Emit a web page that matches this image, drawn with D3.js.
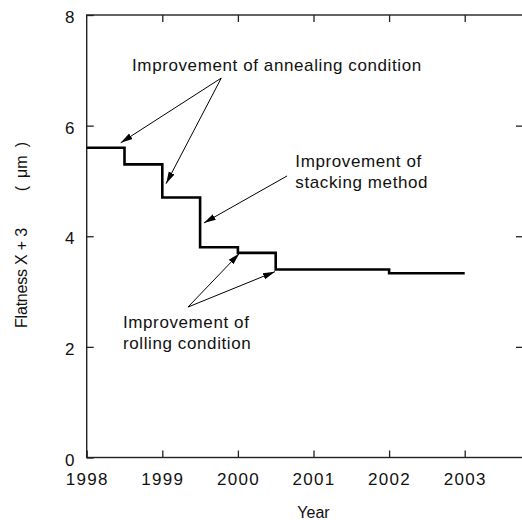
<!DOCTYPE html>
<html>
<head>
<meta charset="utf-8">
<script src="https://cdn.jsdelivr.net/npm/d3@7"></script>
<style>
  html, body { margin: 0; padding: 0; background: #fff; }
  svg { display: block; }
  text { font-family: "Liberation Sans", Arial, sans-serif; fill: #111; }
</style>
</head>
<body>
<svg id="chart" width="522" height="520"></svg>
<script>
// Flatness history: step changes by year
const years = [1998, 1998.5, 1999, 1999.5, 2000, 2000.5, 2002, 2003];
const flatness = [5.6, 5.3, 4.7, 3.8, 3.7, 3.4, 3.33, 3.33];

const xTicks = [1998, 1999, 2000, 2001, 2002, 2003];
const yTicks = [0, 2, 4, 6, 8];

const xTitle = "Year";
const yTitle = ["Flatness X + 3", "(\u2002μm\u2002)"];

// Callouts: label lines, label anchor (year, value), arrow start and arrow tips
const callouts = [
  { lines: ["Improvement of annealing condition"], at: [1998.6, 6.98],
    from: [1999.78, 6.86], tips: [[1998.45, 5.69], [1999.05, 4.95]] },
  { lines: ["Improvement of", "stacking method"], at: [2000.76, 5.25],
    from: [2000.65, 5.09], tips: [[1999.55, 4.24]] },
  { lines: ["Improvement of", "rolling condition"], at: [1998.48, 2.35],
    from: [1999.34, 2.72], tips: [[2000.02, 3.69], [2000.49, 3.36]] }
];

const svg = d3.select("#chart");
const plotLeft = 86.7, plotTop = 15, plotBottom = 457.5, plotRight = 523;
const x = d3.scaleLinear().domain([1998, 2003]).range([plotLeft, plotLeft + 5 * 75.6]);
const y = d3.scaleLinear().domain([0, 8]).range([plotBottom, plotTop]);

// arrowhead
svg.append("defs").append("marker")
  .attr("id", "head").attr("markerUnits", "userSpaceOnUse")
  .attr("viewBox", "0 -4 12 8").attr("refX", 12).attr("refY", 0)
  .attr("markerWidth", 12).attr("markerHeight", 8).attr("orient", "auto")
  .append("path").attr("d", "M0,-3.2L12,0L0,3.2Z").attr("fill", "#000");

// frame
svg.append("rect")
  .attr("x", plotLeft).attr("y", plotTop)
  .attr("width", plotRight - plotLeft).attr("height", plotBottom - plotTop)
  .attr("fill", "none").attr("stroke", "#222").attr("stroke-width", 1.4);

const tickLen = 7;
const axisFont = 17;

// bottom and top axes, ticks pointing inward
const gx = svg.append("g").attr("transform", `translate(0,${plotBottom})`)
  .call(d3.axisBottom(x).tickValues(xTicks).tickFormat(d3.format("d")).tickSizeInner(-tickLen).tickSizeOuter(0).tickPadding(15));
const gxt = svg.append("g").attr("transform", `translate(0,${plotTop})`)
  .call(d3.axisTop(x).tickValues(xTicks.slice(1)).tickSizeInner(-tickLen).tickSizeOuter(0).tickFormat(""));
const gy = svg.append("g").attr("transform", `translate(${plotLeft},0)`)
  .call(d3.axisLeft(y).tickValues(yTicks).tickSizeInner(-tickLen).tickSizeOuter(0).tickPadding(11));
const gyr = svg.append("g").attr("transform", `translate(${plotRight},0)`)
  .call(d3.axisRight(y).tickValues(yTicks.slice(1, -1)).tickSizeInner(-tickLen).tickSizeOuter(0).tickFormat(""));

[gx, gxt, gy, gyr].forEach(g => {
  g.select(".domain").remove();
  g.selectAll(".tick line").attr("stroke", "#222").attr("stroke-width", 1.3);
  g.selectAll("text")
    .attr("font-family", "Liberation Sans, Arial, sans-serif")
    .attr("font-size", axisFont).attr("fill", "#111")
    .style("letter-spacing", "1.3px");
});
gy.selectAll(".tick text").attr("dy", "0.45em");

// step line
const line = d3.line().x(d => x(d[0])).y(d => y(d[1])).curve(d3.curveStepAfter);
svg.append("path")
  .datum(d3.zip(years, flatness))
  .attr("d", line)
  .attr("fill", "none").attr("stroke", "#000").attr("stroke-width", 2.6);

// callouts
const lineGap = 21;
callouts.forEach(c => {
  c.tips.forEach(t => {
    svg.append("line")
      .attr("x1", x(c.from[0])).attr("y1", y(c.from[1]))
      .attr("x2", x(t[0])).attr("y2", y(t[1]))
      .attr("stroke", "#000").attr("stroke-width", 1)
      .attr("marker-end", "url(#head)");
  });
  c.lines.forEach((s, i) => {
    svg.append("text")
      .attr("x", x(c.at[0])).attr("y", y(c.at[1]) + i * lineGap)
      .attr("font-size", 17).style("letter-spacing", "0.6px")
      .text(s);
  });
});

// axis titles
svg.append("text")
  .attr("x", x(2001)).attr("y", 518)
  .attr("text-anchor", "middle").attr("font-size", 16)
  .text(xTitle);

svg.append("text")
  .attr("transform", "translate(27,328) rotate(-90)")
  .attr("font-size", 16).style("letter-spacing", "-0.2px")
  .text(yTitle[0]);
svg.append("text")
  .attr("transform", "translate(27,142) rotate(-90)")
  .attr("text-anchor", "end").attr("font-size", 16)
  .text(yTitle[1]);
</script>
</body>
</html>
